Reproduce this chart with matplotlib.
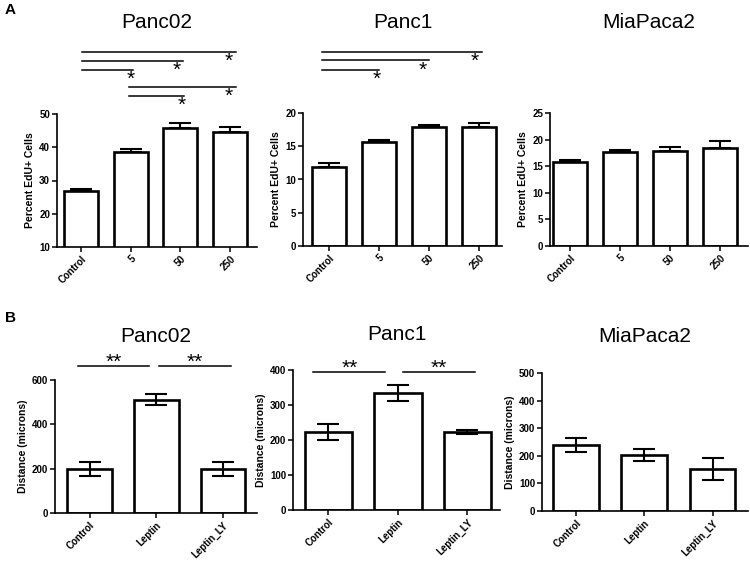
import numpy as np
import matplotlib
matplotlib.use("Agg")
import matplotlib.pyplot as plt
from matplotlib.transforms import offset_copy

plt.rcParams['font.family'] = ['Liberation Sans', 'DejaVu Sans']

# -------------------------------
# DATA
# -------------------------------

# panel A: EdU proliferation
dose_labels = ["Control", "5", "50", "250"]
edu_panc02 = [26.8, 38.5, 45.9, 44.5]
edu_panc02_err = [0.6, 0.9, 1.5, 1.5]
edu_panc1 = [11.95, 15.63, 17.83, 17.83]
edu_panc1_err = [0.5, 0.25, 0.4, 0.65]
edu_mia = [15.7, 17.65, 17.95, 18.5]
edu_mia_err = [0.5, 0.45, 0.7, 1.15]

# panel B: migration distance
treat_labels = ["Control", "Leptin", "Leptin_LY"]
dist_panc02 = [198, 510, 198]
dist_panc02_err = [33, 25, 30]
dist_panc1 = [223, 334, 223]
dist_panc1_err = [23, 23, 7]
dist_mia = [240, 203, 152]
dist_mia_err = [25, 22, 40]

# significance brackets: (x_start, x_end, y, label, label_x)
sig_a_panc02 = [(0.02, 3.12, 68.6, "*", 2.98),
                (0.02, 2.05, 65.9, "*", 1.93),
                (0.02, 1.05, 63.2, "*", 1.0),
                (0.97, 3.12, 58.1, "*", 2.98),
                (0.97, 2.07, 55.4, "*", 2.03)]
sig_a_panc1 = [(-0.14, 3.06, 29.2, "*", 2.92),
               (-0.14, 2.0, 27.9, "*", 1.88),
               (-0.14, 1.0, 26.5, "*", 0.96)]
sig_b_panc02 = [(-0.17, 0.89, 663, "**", 0.36),
                (1.04, 2.12, 663, "**", 1.58)]
sig_b_panc1 = [(-0.22, 0.81, 394, "**", 0.30),
               (1.07, 2.11, 394, "**", 1.59)]

W, H = 750, 563
fig = plt.figure(figsize=(W / 100, H / 100), dpi=100)


def make_axes(x0, x1, ytop, ybot):
    return fig.add_axes([x0 / W, 1 - ybot / H, (x1 - x0) / W, (ybot - ytop) / H])


def draw_bars(ax, labels, vals, errs, ylim, yticks, xlim, ylabel, up_only, width=0.68):
    x = np.arange(len(labels))
    ax.bar(x, vals, width=width, color="white", edgecolor="black", linewidth=1.9, zorder=2)
    errs = np.array(errs)
    if up_only:
        yerr = [np.zeros_like(errs), errs]
    else:
        yerr = errs
    ax.errorbar(x, vals, yerr=yerr, fmt="none", ecolor="black", elinewidth=1.5,
                capsize=8, capthick=1.5, zorder=3)
    ax.set_xlim(*xlim)
    ax.set_ylim(*ylim)
    ax.set_yticks(yticks)
    ax.set_xticks(x)
    ax.set_xticklabels(labels, rotation=45, ha="right", va="top", rotation_mode="anchor",
                       fontsize=7, fontweight="bold")
    for t in ax.get_yticklabels():
        t.set_fontsize(7)
        t.set_fontweight("bold")
    ax.set_ylabel(ylabel, fontsize=7.5, fontweight="bold", labelpad=3)
    for s in ["top", "right"]:
        ax.spines[s].set_visible(False)
    for s in ["left", "bottom"]:
        ax.spines[s].set_linewidth(1.2)
    ax.tick_params(axis="both", direction="out", length=3.5, width=1.1, pad=1.5)


def draw_sig(ax, sigs, dy_pt):
    # dy_pt: baseline offset of the star text from the line, in points
    tr = offset_copy(ax.transData, fig=fig, x=0, y=dy_pt, units="points")
    for xs, xe, y, lab, lx in sigs:
        ax.plot([xs, xe], [y, y], color="black", lw=1.1, clip_on=False)
        ax.text(lx, y, lab, ha="center", va="baseline", fontsize=15,
                transform=tr, clip_on=False)


# -------------------------------
# PANEL A
# -------------------------------
ax = make_axes(57, 257, 114, 247)
draw_bars(ax, dose_labels, edu_panc02, edu_panc02_err, (10, 50), [10, 20, 30, 40, 50],
          (-0.48, 3.54), "Percent EdU+ Cells", True)
draw_sig(ax, sig_a_panc02, -10.8)
ax.set_title("Panc02", fontsize=15, pad=0, y=(247 - 22) / 133, va="center")

ax = make_axes(303, 502, 113, 246)
draw_bars(ax, dose_labels, edu_panc1, edu_panc1_err, (0, 20), [0, 5, 10, 15, 20],
          (-0.52, 3.46), "Percent EdU+ Cells", True)
draw_sig(ax, sig_a_panc1, -10.8)
ax.set_title("Panc1", fontsize=15, pad=0, y=(246 - 22) / 133, va="center")

ax = make_axes(550, 748, 113, 246)
draw_bars(ax, dose_labels, edu_mia, edu_mia_err, (0, 25), [0, 5, 10, 15, 20, 25],
          (-0.4, 3.56), "Percent EdU+ Cells", True)
ax.set_title("MiaPaca2", fontsize=15, pad=0, y=(246 - 22) / 133, va="center")

# -------------------------------
# PANEL B
# -------------------------------
ax = make_axes(55, 257, 380, 513)
draw_bars(ax, treat_labels, dist_panc02, dist_panc02_err, (0, 600), [0, 200, 400, 600],
          (-0.52, 2.51), "Distance (microns)", False, width=0.67)
draw_sig(ax, sig_b_panc02, -1.0)
ax.set_title("Panc02", fontsize=15, pad=0, y=(513 - 337) / 133, va="center")

ax = make_axes(293, 500, 370, 510)
draw_bars(ax, treat_labels, dist_panc1, dist_panc1_err, (0, 400), [0, 100, 200, 300, 400],
          (-0.51, 2.47), "Distance (microns)", False, width=0.68)
draw_sig(ax, sig_b_panc1, -1.0)
ax.set_title("Panc1", fontsize=15, pad=0, y=(510 - 335) / 140, va="center")

ax = make_axes(542, 748, 373, 511)
draw_bars(ax, treat_labels, dist_mia, dist_mia_err, (0, 500), [0, 100, 200, 300, 400, 500],
          (-0.5, 2.52), "Distance (microns)", False, width=0.67)
ax.set_title("MiaPaca2", fontsize=15, pad=0, y=(511 - 337) / 138, va="center")

# panel letters
fig.text(5 / W, 1 - 10 / H, "A", fontsize=11, fontweight="bold", va="center", ha="left")
fig.text(5 / W, 1 - 318 / H, "B", fontsize=11, fontweight="bold", va="center", ha="left")

fig.savefig("out.png", dpi=100)
